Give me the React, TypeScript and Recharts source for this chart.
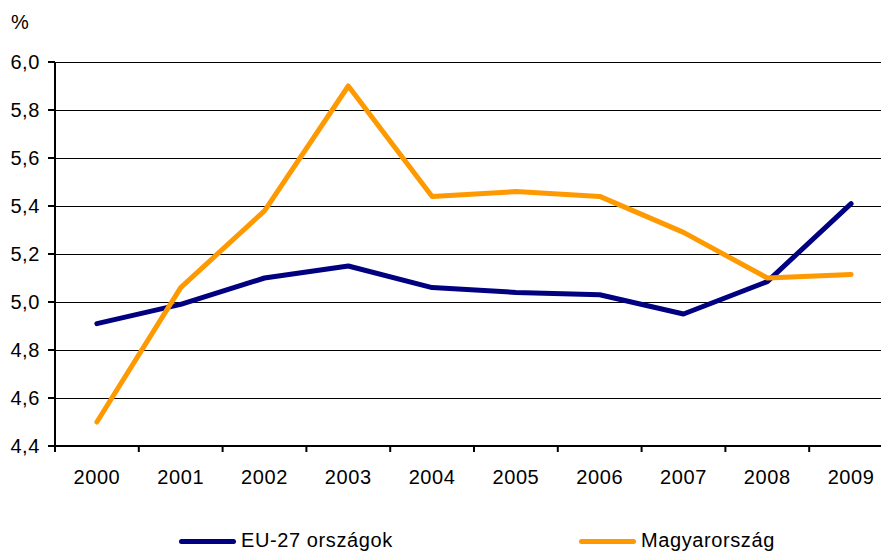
import React from "react";
import { LineChart, Line, XAxis, YAxis, CartesianGrid } from "recharts";

const years = ["2000", "2001", "2002", "2003", "2004", "2005", "2006", "2007", "2008", "2009"];
const euValues = [4.91, 4.99, 5.1, 5.15, 5.06, 5.04, 5.03, 4.95, 5.085, 5.41];
const huValues = [4.5, 5.06, 5.38, 5.9, 5.44, 5.46, 5.44, 5.29, 5.1, 5.115];
const yTicks = [4.4, 4.6, 4.8, 5.0, 5.2, 5.4, 5.6, 5.8, 6.0];
const seriesNames = ["EU-27 országok", "Magyarország"];
const seriesColors = ["#000080", "#FF9900"];

const data = years.map((y, i) => ({ year: y, eu: euValues[i], hu: huValues[i] }));

const CHART_W = 900;
const CHART_H = 553;
const Y_W = 55;
const M_RIGHT = 7;
const HALF_BAND = (CHART_W - Y_W - M_RIGHT) / (years.length * 2);
const FONT = "'Liberation Sans', Arial, sans-serif";
const FS = 20;
const LS = 0.6;

const XTick = (props: any) => {
  const { x, y, payload, index } = props;
  const isLast = index === years.length - 1;
  return (
    <g>
      <line x1={x - HALF_BAND} x2={x - HALF_BAND} y1={y} y2={y + 6} stroke="#000" strokeWidth={2} />
      {isLast && (
        <line x1={x + HALF_BAND} x2={x + HALF_BAND} y1={y} y2={y + 6} stroke="#000" strokeWidth={2} />
      )}
      <text
        x={x}
        y={y + 38}
        textAnchor="middle"
        fontFamily={FONT}
        fontSize={FS}
        letterSpacing={LS}
        fill="#000"
      >
        {payload.value}
      </text>
    </g>
  );
};

export default function App() {
  return (
    <div
      style={{
        position: "absolute",
        left: 0,
        top: 0,
        width: 881,
        height: 553,
        overflow: "hidden",
        background: "#fff",
        fontFamily: FONT,
      }}
    >
      <div
        style={{
          position: "absolute",
          left: 11,
          top: 11,
          fontSize: FS,
          letterSpacing: LS,
          color: "#000",
        }}
      >
        %
      </div>
      <LineChart
        width={CHART_W}
        height={CHART_H}
        data={data}
        margin={{ top: 62, right: M_RIGHT, left: 0, bottom: 67 }}
      >
        <CartesianGrid vertical={false} stroke="#000" strokeWidth={1} shapeRendering="crispEdges" />
        <XAxis
          dataKey="year"
          height={40}
          padding={{ left: HALF_BAND, right: HALF_BAND }}
          axisLine={{ stroke: "#000", strokeWidth: 2 }}
          tickLine={false}
          tickSize={0}
          tickMargin={0}
          interval={0}
          tick={<XTick />}
        />
        <YAxis
          width={Y_W}
          domain={[4.4, 6.0]}
          ticks={yTicks}
          interval={0}
          allowDataOverflow
          axisLine={{ stroke: "#000", strokeWidth: 2 }}
          tickLine={{ stroke: "#000", strokeWidth: 2 }}
          tickSize={7}
          tickMargin={8}
          tickFormatter={(v: number) => v.toFixed(1).replace(".", ",")}
          tick={{ fill: "#000", fontSize: FS, fontFamily: FONT, letterSpacing: LS }}
        />
        <Line
          type="linear"
          dataKey="eu"
          name={seriesNames[0]}
          stroke={seriesColors[0]}
          strokeWidth={5}
          strokeLinecap="round"
          strokeLinejoin="round"
          dot={false}
          isAnimationActive={false}
        />
        <Line
          type="linear"
          dataKey="hu"
          name={seriesNames[1]}
          stroke={seriesColors[1]}
          strokeWidth={5}
          strokeLinecap="round"
          strokeLinejoin="round"
          dot={false}
          isAnimationActive={false}
        />
      </LineChart>
      {seriesNames.map((name, i) => (
        <div
          key={name}
          style={{
            position: "absolute",
            left: 179 + i * 400,
            top: 528,
            display: "flex",
            alignItems: "center",
            whiteSpace: "nowrap",
          }}
        >
          <div
            style={{
              width: 57,
              height: 5,
              borderRadius: 3,
              background: seriesColors[i],
              marginRight: 5,
              marginTop: 2,
            }}
          />
          <span style={{ fontSize: FS, letterSpacing: LS, color: "#000", lineHeight: "24px" }}>
            {name}
          </span>
        </div>
      ))}
    </div>
  );
}
